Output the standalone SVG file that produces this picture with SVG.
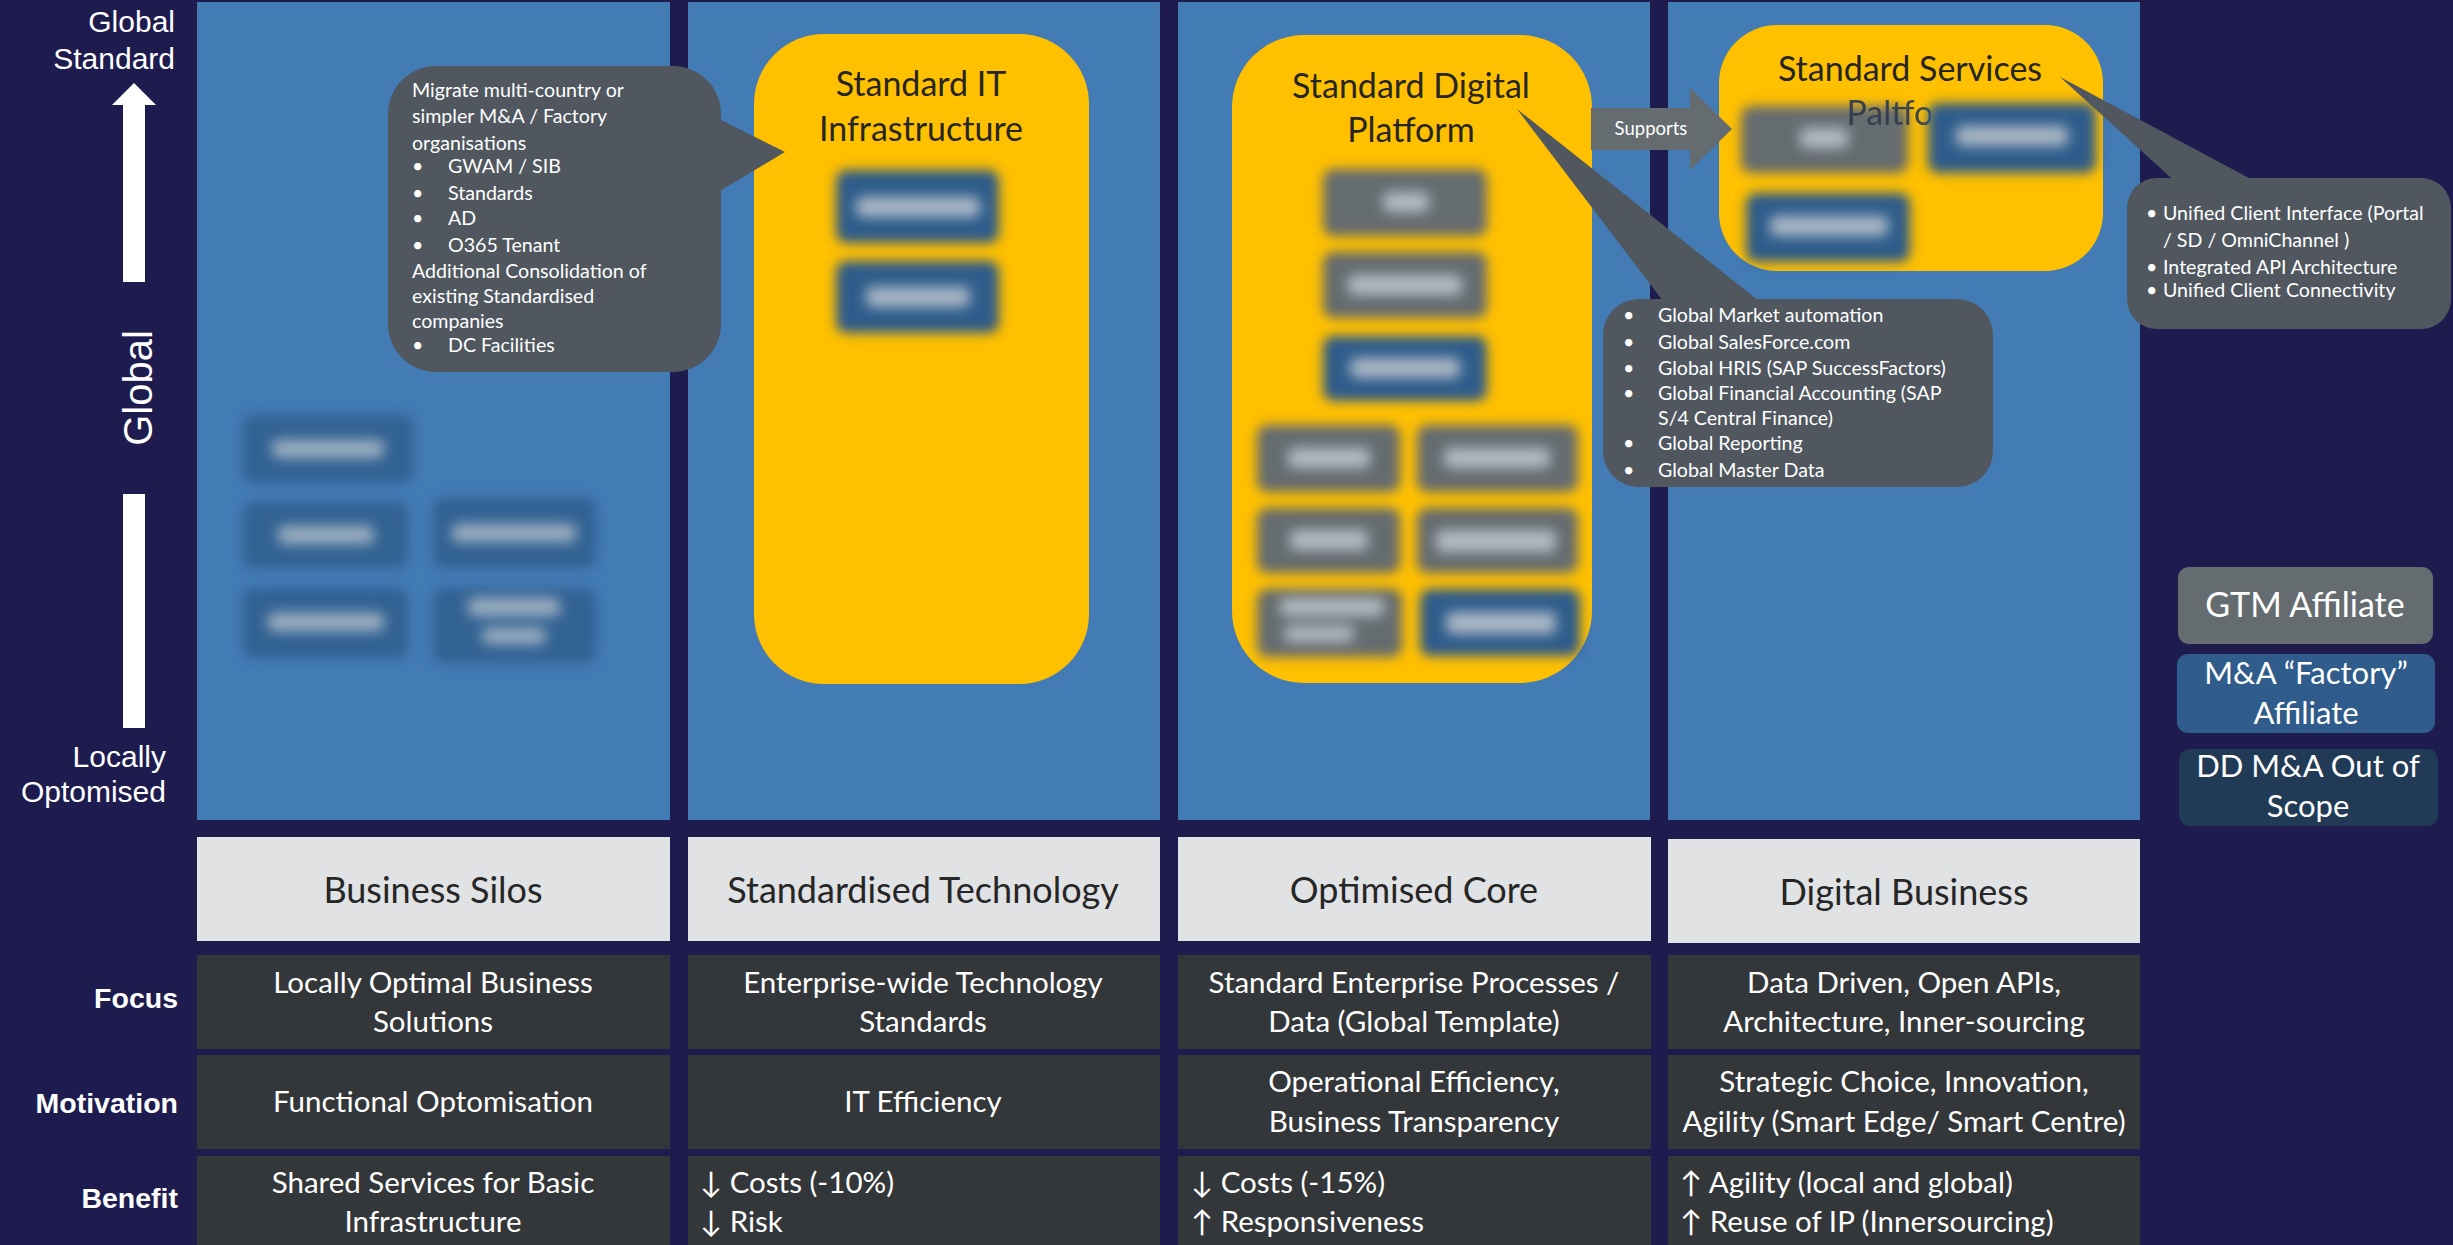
<svg xmlns="http://www.w3.org/2000/svg" width="2453" height="1245" viewBox="0 0 2453 1245">
<defs>
<style>
.col{fill:#437BB5}
.ybox{fill:#FFC000}
.call{fill:#50575F}
.hdr{fill:#E1E2E4}
.row{fill:#343739}
.t{font-family:Lato,"DejaVu Sans",sans-serif}
.w{fill:#FFFFFF}
.dk{fill:#262626}
.hd{font-size:36px}
.rt{font-size:29.5px}
.ct{font-size:19.6px}
.yt{font-size:34px}
.ax{font-family:"Liberation Sans",Arial,sans-serif;fill:#FFFFFF}
.rl{font-family:"Liberation Sans",Arial,sans-serif;font-weight:bold;font-size:28.5px;fill:#FFFFFF}
.g{fill:#656C70}
.b{fill:#2F5C8A}
.blob{fill:#C3CAD3}
.lg{font-size:31px}
</style>
<filter id="bl" x="-30%" y="-40%" width="160%" height="180%"><feGaussianBlur stdDeviation="6"/></filter>
<filter id="bl2" x="-30%" y="-60%" width="160%" height="220%"><feGaussianBlur stdDeviation="6.5"/></filter>
<clipPath id="pclip"><rect x="1719" y="100" width="212" height="60"/></clipPath>
</defs>
<rect width="2453" height="1245" fill="#1E1C4E"/>

<g id="columns">
<rect class="col" x="197" y="2" width="473" height="818"/>
<rect class="col" x="688" y="2" width="472" height="818"/>
<rect class="col" x="1178" y="2" width="472" height="818"/>
<rect class="col" x="1668" y="2" width="472" height="818"/>
</g>

<g id="axis">
<text class="ax" x="175" y="32" font-size="30" text-anchor="end">Global</text>
<text class="ax" x="175" y="69" font-size="30" text-anchor="end">Standard</text>
<polygon fill="#FFFFFF" points="134,83 156,105 145,105 145,282 123,282 123,105 112,105"/>
<text class="ax" transform="translate(152,388) rotate(-90)" font-size="40" text-anchor="middle">Global</text>
<rect fill="#FFFFFF" x="123" y="494" width="22" height="234"/>
<text class="ax" x="166" y="767" font-size="30" text-anchor="end">Locally</text>
<text class="ax" x="166" y="802" font-size="30" text-anchor="end">Optomised</text>
</g>

<g id="silo-companies">
<g filter="url(#bl)" opacity="0.8">
<rect class="b" x="243" y="415" width="170" height="68" rx="10"/>
<rect class="b" x="243" y="502" width="165" height="66" rx="10"/>
<rect class="b" x="433" y="498" width="163" height="70" rx="10"/>
<rect class="b" x="243" y="588" width="165" height="70" rx="10"/>
<rect class="b" x="433" y="588" width="163" height="75" rx="10"/>
</g>
<g filter="url(#bl2)" opacity="0.75">
<rect class="blob" x="272" y="440" width="112" height="18" rx="6"/>
<rect class="blob" x="278" y="526" width="96" height="18" rx="6"/>
<rect class="blob" x="452" y="524" width="124" height="18" rx="6"/>
<rect class="blob" x="268" y="613" width="116" height="18" rx="6"/>
<rect class="blob" x="468" y="598" width="92" height="18" rx="6"/>
<rect class="blob" x="482" y="628" width="64" height="16" rx="6"/>
</g>
</g>

<g id="it-infrastructure">
<rect class="ybox" x="754" y="34" width="335" height="650" rx="70"/>
<text class="t dk yt" x="921" y="96" text-anchor="middle">Standard IT</text>
<text class="t dk yt" x="921" y="141" text-anchor="middle">Infrastructure</text>
<g filter="url(#bl)">
<rect class="b" x="836" y="170" width="163" height="73" rx="10"/>
<rect class="b" x="836" y="261" width="163" height="72" rx="10"/>
</g>
<g filter="url(#bl2)" opacity="0.85">
<rect class="blob" x="856" y="197" width="124" height="20" rx="6"/>
<rect class="blob" x="866" y="287" width="104" height="20" rx="6"/>
</g>
</g>

<g id="digital-platform">
<rect class="ybox" x="1232" y="35" width="360" height="648" rx="72"/>
<text class="t dk yt" x="1411" y="98" text-anchor="middle">Standard Digital</text>
<text class="t dk yt" x="1411" y="142" text-anchor="middle">Platform</text>
<g filter="url(#bl)">
<rect class="g" x="1323" y="169" width="164" height="67" rx="10"/>
<rect class="g" x="1323" y="252" width="164" height="66" rx="10"/>
<rect class="b" x="1323" y="336" width="164" height="65" rx="10"/>
<rect class="g" x="1257" y="425" width="143" height="67" rx="10"/>
<rect class="g" x="1417" y="425" width="161" height="67" rx="10"/>
<rect class="g" x="1257" y="508" width="143" height="65" rx="10"/>
<rect class="g" x="1417" y="508" width="161" height="65" rx="10"/>
<rect class="g" x="1257" y="589" width="145" height="68" rx="10"/>
<rect class="b" x="1420" y="589" width="160" height="67" rx="10"/>
</g>
<g filter="url(#bl2)" opacity="0.85">
<rect class="blob" x="1383" y="192" width="46" height="20" rx="6"/>
<rect class="blob" x="1348" y="275" width="114" height="20" rx="6"/>
<rect class="blob" x="1350" y="358" width="110" height="20" rx="6"/>
<rect class="blob" x="1288" y="448" width="82" height="20" rx="6"/>
<rect class="blob" x="1444" y="448" width="106" height="20" rx="6"/>
<rect class="blob" x="1290" y="530" width="78" height="20" rx="6"/>
<rect class="blob" x="1436" y="530" width="120" height="22" rx="6"/>
<rect class="blob" x="1280" y="598" width="104" height="18" rx="6"/>
<rect class="blob" x="1284" y="626" width="70" height="16" rx="6"/>
<rect class="blob" x="1446" y="612" width="110" height="22" rx="6"/>
</g>
</g>

<g id="standard-services">
<rect class="ybox" x="1719" y="25" width="384" height="246" rx="58"/>
<text class="t dk yt" x="1910" y="81" text-anchor="middle">Standard Services</text>
<g filter="url(#bl)">
<rect class="g" x="1741" y="106" width="167" height="67" rx="10"/>
<rect class="b" x="1746" y="193" width="164" height="69" rx="10"/>
</g>
<g filter="url(#bl2)" opacity="0.85">
<rect class="blob" x="1800" y="128" width="48" height="20" rx="6"/>
<rect class="blob" x="1770" y="216" width="118" height="20" rx="6"/>
</g>
<text class="t yt" x="1910" y="125" text-anchor="middle" fill="#2E3A4E" opacity="0.9" clip-path="url(#pclip)">Paltform</text>
<g filter="url(#bl)">
<rect class="b" x="1928" y="103" width="168" height="70" rx="10"/>
</g>
<g filter="url(#bl2)" opacity="0.85">
<rect class="blob" x="1956" y="126" width="112" height="20" rx="6"/>
</g>
</g>

<g id="connectors">
<g id="supports-arrow">
<polygon class="g" points="1591,108 1690,108 1690,88 1732,129 1690,170 1690,150 1591,150"/>
<text class="t w" x="1651" y="135" font-size="18.5" text-anchor="middle">Supports</text>
</g>
</g>

<g id="callout-silos">
<rect class="call" x="388" y="66" width="333" height="306" rx="48"/>
<polygon class="call" points="715,117 785,152 715,194"/>
<g class="t w ct">
<text x="412" y="97">Migrate multi-country or</text>
<text x="412" y="123">simpler M&amp;A / Factory</text>
<text x="412" y="150">organisations</text>
<text x="412" y="173">•</text><text x="448" y="173">GWAM / SIB</text>
<text x="412" y="200">•</text><text x="448" y="200">Standards</text>
<text x="412" y="225">•</text><text x="448" y="225">AD</text>
<text x="412" y="252">•</text><text x="448" y="252">O365 Tenant</text>
<text x="412" y="278">Additional Consolidation of</text>
<text x="412" y="303">existing Standardised</text>
<text x="412" y="328">companies</text>
<text x="412" y="352">•</text><text x="448" y="352">DC Facilities</text>
</g>
</g>

<g id="callout-digital">
<polygon class="call" points="1517,109 1666,305 1764,305"/>
<rect class="call" x="1603" y="299" width="390" height="188" rx="36"/>
<g class="t w ct">
<text x="1623" y="322">•</text><text x="1658" y="322">Global Market automation</text>
<text x="1623" y="349">•</text><text x="1658" y="349">Global SalesForce.com</text>
<text x="1623" y="375">•</text><text x="1658" y="375">Global HRIS (SAP SuccessFactors)</text>
<text x="1623" y="400">•</text><text x="1658" y="400">Global Financial Accounting (SAP</text>
<text x="1658" y="425">S/4 Central Finance)</text>
<text x="1623" y="450">•</text><text x="1658" y="450">Global Reporting</text>
<text x="1623" y="477">•</text><text x="1658" y="477">Global Master Data</text>
</g>
</g>

<g id="callout-services">
<polygon class="call" points="2060,77 2179,185 2262,185"/>
<rect class="call" x="2127" y="178" width="324" height="151" rx="30"/>
<g class="t w ct">
<text x="2146" y="220">•</text><text x="2163" y="220">Unified Client Interface (Portal</text>
<text x="2163" y="247">/ SD / OmniChannel )</text>
<text x="2146" y="274">•</text><text x="2163" y="274">Integrated API Architecture</text>
<text x="2146" y="297">•</text><text x="2163" y="297">Unified Client Connectivity</text>
</g>
</g>

<g id="headers">
<rect class="hdr" x="197" y="837" width="473" height="104"/>
<rect class="hdr" x="688" y="837" width="472" height="104"/>
<rect class="hdr" x="1178" y="837" width="473" height="104"/>
<rect class="hdr" x="1668" y="839" width="472" height="104"/>
<g class="t dk hd" text-anchor="middle">
<text x="433" y="903">Business Silos</text>
<text x="923" y="903">Standardised Technology</text>
<text x="1414" y="903">Optimised Core</text>
<text x="1904" y="905">Digital Business</text>
</g>
</g>

<g id="row-labels">
<text class="rl" x="178" y="1008" text-anchor="end">Focus</text>
<text class="rl" x="178" y="1113" text-anchor="end">Motivation</text>
<text class="rl" x="178" y="1208" text-anchor="end">Benefit</text>
</g>

<g id="focus-row">
<rect class="row" x="197" y="955" width="473" height="94"/>
<rect class="row" x="688" y="955" width="472" height="94"/>
<rect class="row" x="1178" y="955" width="473" height="94"/>
<rect class="row" x="1668" y="955" width="472" height="94"/>
<g class="t w rt" text-anchor="middle">
<text x="433" y="993">Locally Optimal Business</text>
<text x="433" y="1032">Solutions</text>
<text x="923" y="993">Enterprise-wide Technology</text>
<text x="923" y="1032">Standards</text>
<text x="1414" y="993">Standard Enterprise Processes /</text>
<text x="1414" y="1032">Data (Global Template)</text>
<text x="1904" y="993">Data Driven, Open APIs,</text>
<text x="1904" y="1032">Architecture, Inner-sourcing</text>
</g>
</g>

<g id="motivation-row">
<rect class="row" x="197" y="1055" width="473" height="94"/>
<rect class="row" x="688" y="1055" width="472" height="94"/>
<rect class="row" x="1178" y="1055" width="473" height="94"/>
<rect class="row" x="1668" y="1055" width="472" height="94"/>
<g class="t w rt" text-anchor="middle">
<text x="433" y="1112">Functional Optomisation</text>
<text x="923" y="1112">IT Efficiency</text>
<text x="1414" y="1092">Operational Efficiency,</text>
<text x="1414" y="1132">Business Transparency</text>
<text x="1904" y="1092">Strategic Choice, Innovation,</text>
<text x="1904" y="1132">Agility (Smart Edge/ Smart Centre)</text>
</g>
</g>

<g id="benefit-row">
<rect class="row" x="197" y="1156" width="473" height="95"/>
<rect class="row" x="688" y="1156" width="472" height="95"/>
<rect class="row" x="1178" y="1156" width="473" height="95"/>
<rect class="row" x="1668" y="1156" width="472" height="95"/>
<g class="t w rt">
<text x="433" y="1193" text-anchor="middle">Shared Services for Basic</text>
<text x="433" y="1232" text-anchor="middle">Infrastructure</text>
<text x="700" y="1193">↓ Costs (-10%)</text>
<text x="700" y="1232">↓ Risk</text>
<text x="1191" y="1193">↓ Costs (-15%)</text>
<text x="1191" y="1232">↑ Responsiveness</text>
<text x="1680" y="1193">↑ Agility (local and global)</text>
<text x="1680" y="1232">↑ Reuse of IP (Innersourcing)</text>
</g>
</g>

<g id="legend">
<g id="legend-gtm">
<rect class="g" x="2178" y="567" width="255" height="77" rx="11"/>
<text class="t w" x="2305" y="617" font-size="34" text-anchor="middle">GTM Affiliate</text>
</g>
<g id="legend-ma">
<rect class="b" x="2177" y="654" width="258" height="79" rx="11"/>
<text class="t w lg" x="2306" y="684" text-anchor="middle">M&amp;A “Factory”</text>
<text class="t w lg" x="2306" y="724" text-anchor="middle">Affiliate</text>
</g>
<g id="legend-dd">
<rect x="2179" y="749" width="259" height="77" rx="11" fill="#213A56"/>
<text class="t w lg" x="2308" y="777" text-anchor="middle">DD M&amp;A Out of</text>
<text class="t w lg" x="2308" y="817" text-anchor="middle">Scope</text>
</g>
</g>
</svg>
